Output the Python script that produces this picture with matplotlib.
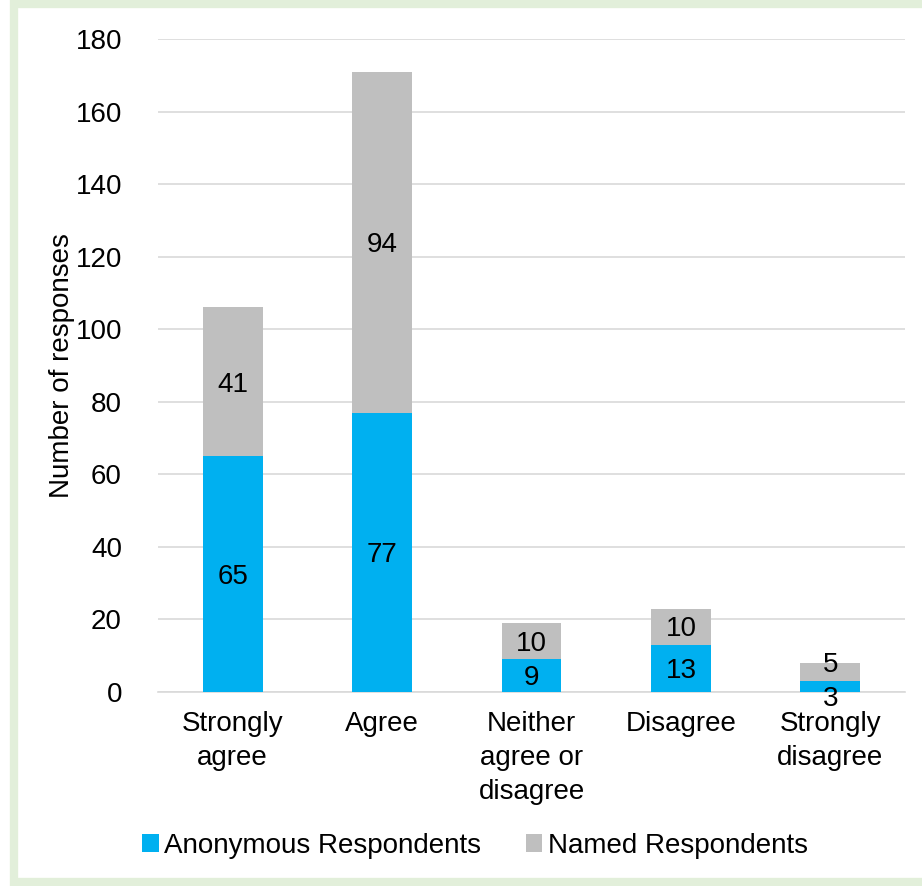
import matplotlib.pyplot as plt
import numpy as np
from matplotlib.patches import Rectangle

categories = ["Strongly\nagree", "Agree", "Neither\nagree or\ndisagree", "Disagree", "Strongly\ndisagree"]
anonymous = [65, 77, 9, 13, 3]
named = [41, 94, 10, 10, 5]

blue = "#00B0F0"
grey = "#BFBFBF"

plt.rcParams['font.family'] = ['Liberation Sans', 'DejaVu Sans']
fs = 20

fig = plt.figure(figsize=(9.22, 8.86), dpi=100)
# light green frame around the chart area
fig.patches.append(Rectangle((14 / 922, 4 / 886), 1.0, 878 / 886, transform=fig.transFigure,
                             facecolor="white", edgecolor="#E2EFDA", linewidth=6, zorder=-1))

ax = fig.add_axes([158 / 922, 1 - 692 / 886, (905 - 158) / 922, (692 - 39) / 886])
x = np.arange(len(categories))
width = 0.4

bars1 = ax.bar(x, anonymous, width, color=blue, label="Anonymous Respondents", zorder=3)
bars2 = ax.bar(x, named, width, bottom=anonymous, color=grey, label="Named Respondents", zorder=3)

# labels centred in each segment; tiny segments get nudged apart like Excel does
for bars, vals, nudge in [(bars1, anonymous, -7), (bars2, named, 7)]:
    for rect, val in zip(bars, vals):
        small = rect.get_height() < 8
        ax.annotate(str(val), (rect.get_x() + rect.get_width() / 2, rect.get_y() + rect.get_height() / 2),
                    xytext=(0, (nudge if small else 0) - 2), textcoords="offset points",
                    ha="center", va="center", fontsize=fs, zorder=4)

ax.set_xlim(-0.5, len(categories) - 0.5)
ax.set_ylim(0, 180)
ax.set_yticks(range(0, 181, 20))
ax.yaxis.grid(True, color="#D9D9D9", linewidth=1.2, zorder=0)
ax.set_axisbelow(True)
for side in ["top", "right", "left"]:
    ax.spines[side].set_visible(False)
ax.spines["bottom"].set_color("#D9D9D9")
ax.spines["bottom"].set_linewidth(1.2)
ax.tick_params(axis="both", length=0, labelsize=fs, pad=14)
ax.tick_params(axis="y", pad=26)
ax.set_xticks(x)
ax.set_xticklabels(categories, linespacing=1.4, va="top")
ax.set_ylabel("Number of responses", fontsize=fs, labelpad=0)

fig.legend(loc="center", bbox_to_anchor=(0.515, 1 - 846 / 886), ncol=2, frameon=False,
           fontsize=fs, handlelength=0.6, handleheight=0.6, handletextpad=0.2, columnspacing=1.6)

fig.savefig("out.png", dpi=100)
